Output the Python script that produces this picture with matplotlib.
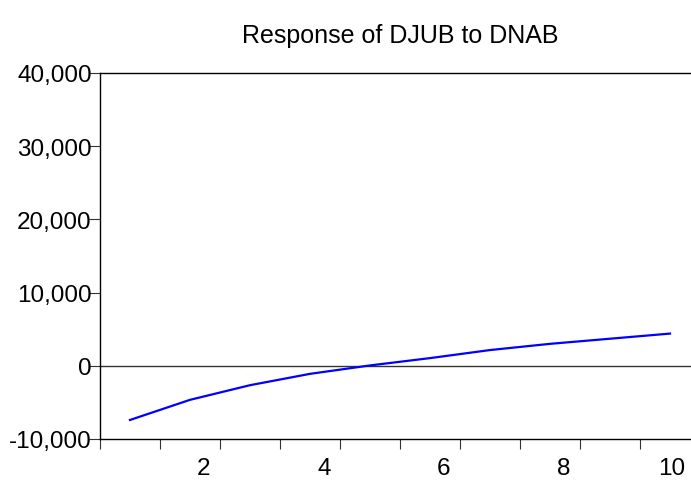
import matplotlib
matplotlib.use('Agg')
import matplotlib.pyplot as plt
import matplotlib.transforms as mtransforms
from matplotlib.ticker import FuncFormatter

plt.rcParams['font.family'] = ['Liberation Sans', 'DejaVu Sans']

# impulse response values
periods = [1, 2, 3, 4, 5, 6, 7, 8, 9, 10]
response = [-7400, -4650, -2650, -1100, 50, 1050, 2150, 3000, 3700, 4400]
y_ticks = [-10000, 0, 10000, 20000, 30000, 40000]
x_labels = [2, 4, 6, 8, 10]
x_minor = [0.5, 1.5, 2.5, 3.5, 4.5, 5.5, 6.5, 7.5, 8.5, 9.5, 10.5]

fig = plt.figure(figsize=(6.91, 4.81), dpi=100)
ax = fig.add_axes([100 / 691, 41 / 481, 600 / 691, 366 / 481])

ax.axhline(0, color='#333333', lw=1.0, zorder=1)
ax.plot(periods, response, color='#0000ff', lw=1.6, zorder=2)

ax.set_xlim(0.5, 10.5)
ax.set_ylim(-10000, 40000)

ax.set_yticks(y_ticks)
ax.yaxis.set_major_formatter(FuncFormatter(lambda v, p: f'{int(v):,}'))
ax.tick_params(axis='y', direction='out', length=8, width=0.8, pad=-2,
               labelsize=17.5, color='#333333')

ax.set_xticks(x_labels)
ax.set_xticks(x_minor, minor=True)
ax.tick_params(axis='x', which='major', length=0, pad=13, labelsize=17.5)
ax.tick_params(axis='x', which='minor', direction='out', length=7, width=0.8,
               color='#333333')

# labels sit a bit to the right of their period in the original
for lab in ax.get_xticklabels():
    dx = 2 if lab.get_text() == '10' else 14
    lab.set_transform(lab.get_transform() +
                      mtransforms.ScaledTranslation(dx / 100, 0, fig.dpi_scale_trans))

for s in ['left', 'top', 'bottom']:
    ax.spines[s].set_linewidth(1.0)
    ax.spines[s].set_color('black')
ax.spines['right'].set_visible(False)

ax.set_title('Response of DJUB to DNAB', fontsize=18, pad=22)

fig.savefig('out.png', dpi=100)
